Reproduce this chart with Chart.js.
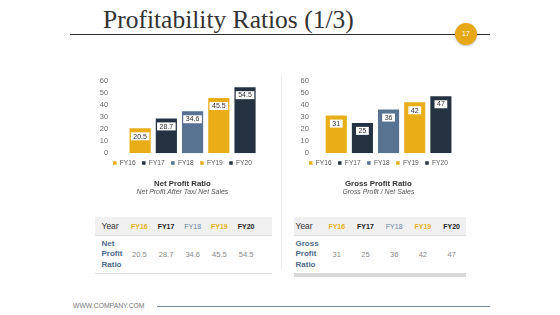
<!DOCTYPE html>
<html>
<head>
<meta charset="utf-8">
<script src="https://cdn.jsdelivr.net/npm/chart.js@4"></script>
<style>
  body { margin: 0; width: 560px; height: 315px; background: #fff; position: relative; overflow: hidden; font-family: "Liberation Sans", Arial, sans-serif; }
  .abs { position: absolute; }
  #title { left: 103px; top: 7px; font-family: "Liberation Serif", serif; font-size: 25.5px; line-height: 26px; color: #333; white-space: nowrap; }
  #rule { left: 70px; top: 34px; width: 420px; height: 1px; background: #2e2e2e; }
  #badge { left: 455px; top: 23px; width: 22px; height: 22px; border-radius: 50%; background: #E6A817; color: #fff; font-size: 7px; line-height: 22px; text-align: center; box-shadow: 0 1px 2px rgba(0,0,0,0.25); }
  #sep { left: 281px; top: 75px; width: 1px; height: 195px; background: #ececec; }
  table { border-collapse: collapse; table-layout: fixed; }
  th { background: #f0f0f0; height: 18px; padding: 0; font-size: 7px; font-weight: bold; text-align: center; border-bottom: 1px solid #dcdcdc; }
  th.yr { font-size: 8.5px; font-weight: normal; color: #333; text-align: left; }
  td { padding: 0; font-size: 7.5px; color: #888; text-align: center; height: 37px; }
  td.lbl { text-align: left; color: #4E6A8C; font-size: 8px; line-height: 10.5px; font-weight: bold; }
  #footText { left: 73px; top: 302px; font-size: 6.8px; color: #777; }
  #footLine { left: 157px; top: 306px; width: 333px; height: 1px; background: #7a8ca0; }
</style>
</head>
<body>
<div id="title" class="abs">Profitability Ratios (1/3)</div>
<div id="rule" class="abs"></div>
<div id="badge" class="abs">17</div>
<div id="sep" class="abs"></div>

<canvas id="netChart" class="abs" width="190" height="130" style="left:85px;top:70px"></canvas>
<canvas id="grossChart" class="abs" width="190" height="130" style="left:285px;top:70px"></canvas>

<table id="netTable" class="abs" style="left:95px;top:217px;width:177px;border-bottom:1px solid #dcdcdc"></table>
<table id="grossTable" class="abs" style="left:294px;top:217px;width:172px;border-bottom:4px solid #d9d9d9"></table>

<div id="footText" class="abs">WWW.COMPANY.COM</div>
<div id="footLine" class="abs"></div>

<script>
const years = ['FY16', 'FY17', 'FY18', 'FY19', 'FY20'];
const netProfit = [20.5, 28.7, 34.6, 45.5, 54.5];
const grossProfit = [31, 25, 36, 42, 47];
const barColors = ['#E9AD18', '#253242', '#587292', '#E9AD18', '#253242'];
const headColors = ['#E8B020', '#222', '#6B84A3', '#E8B020', '#222'];

// white value boxes inside the top of each bar
const valueBoxes = {
  id: 'valueBoxes',
  afterDatasetsDraw(chart) {
    const ctx = chart.ctx;
    ctx.save();
    ctx.font = '7px "Liberation Sans", Arial, sans-serif';
    ctx.textAlign = 'center';
    ctx.textBaseline = 'middle';
    chart.data.datasets.forEach((ds, i) => {
      const bar = chart.getDatasetMeta(i).data[0];
      const txt = String(ds.data[0]);
      const w = ctx.measureText(txt).width + 5;
      const top = bar.y + 4;
      ctx.fillStyle = '#fff';
      ctx.fillRect(bar.x - w / 2, top, w, 8);
      ctx.fillStyle = '#333';
      ctx.fillText(txt, bar.x, top + 4.3);
    });
    ctx.restore();
  }
};

function makeChart(id, values, title, subtitle, padLeft, padRight, catPct) {
  new Chart(document.getElementById(id), {
    type: 'bar',
    data: {
      labels: [''],
      datasets: years.map((y, i) => ({
        label: y,
        data: [values[i]],
        backgroundColor: barColors[i]
      }))
    },
    options: {
      responsive: false,
      animation: false,
      categoryPercentage: catPct,
      barPercentage: 0.807,
      layout: { padding: { top: 10, bottom: 3.6, left: padLeft, right: padRight } },
      scales: {
        x: { display: false },
        y: {
          min: 0, max: 60,
          grid: { display: false, drawTicks: false },
          border: { display: false },
          ticks: { stepSize: 10, padding: 6, color: '#6a6a6a', font: { size: 7.5, family: '"Liberation Sans", Arial' } }
        }
      },
      plugins: {
        tooltip: { enabled: false },
        legend: {
          position: 'bottom',
          labels: { boxWidth: 3.5, boxHeight: 3.5, padding: 6.5, color: '#555', font: { size: 6.6, family: '"Liberation Sans", Arial' } }
        },
        title: {
          display: true, text: title, position: 'bottom', weight: 1200,
          color: '#333', padding: { top: 2.5, bottom: 0 },
          font: { size: 7.8, weight: 'bold', family: '"Liberation Sans", Arial' }
        },
        subtitle: {
          display: true, text: subtitle, position: 'bottom',
          color: '#555', padding: { top: 0, bottom: 0 },
          font: { size: 6.9, style: 'italic', family: '"Liberation Sans", Arial' }
        }
      }
    },
    plugins: [valueBoxes]
  });
}

makeChart('netChart', netProfit, 'Net Profit Ratio', 'Net Profit After Tax/ Net Sales', 8.8, 4, 0.836);
makeChart('grossChart', grossProfit, 'Gross Profit Ratio', 'Gross Profit / Net Sales', 9.5, 12.7, 0.887);

function makeTable(id, label, values, firstW, colW, padL, trailW) {
  const t = document.getElementById(id);
  let cols = '<colgroup><col style="width:' + firstW + 'px">';
  years.forEach(() => { cols += '<col style="width:' + colW + 'px">'; });
  if (trailW) cols += '<col style="width:' + trailW + 'px">';
  cols += '</colgroup>';
  let head = '<tr><th class="yr" style="padding-left:' + padL + 'px">Year</th>';
  years.forEach((y, i) => { head += '<th style="color:' + headColors[i] + (i === 2 ? ';font-weight:normal' : '') + '">' + y + '</th>'; });
  if (trailW) head += '<th></th>';
  head += '</tr>';
  let row = '<tr><td class="lbl" style="padding-left:' + padL + 'px">' + label + '</td>';
  values.forEach(v => { row += '<td>' + v + '</td>'; });
  if (trailW) row += '<td></td>';
  row += '</tr>';
  t.innerHTML = cols + head + row;
}

makeTable('netTable', 'Net<br>Profit<br>Ratio', netProfit, 31, 26.7, 6.5, 12.5);
makeTable('grossTable', 'Gross<br>Profit<br>Ratio', grossProfit, 28.4, 28.7, 1.5, 0);
</script>
</body>
</html>
